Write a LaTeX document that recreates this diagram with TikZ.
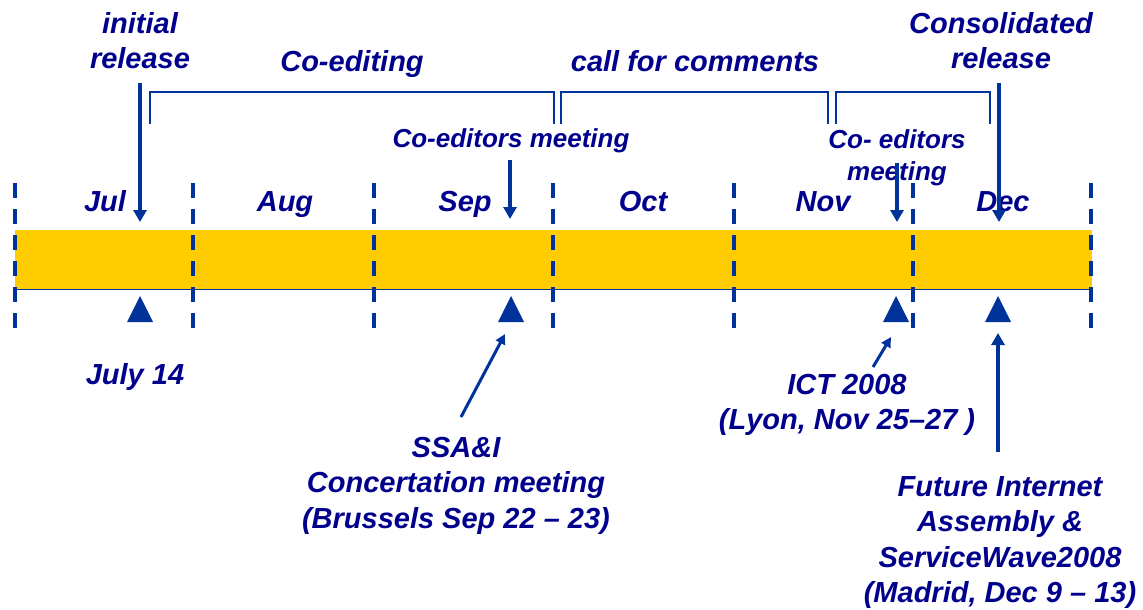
\documentclass[tikz,border=0pt]{standalone}
\usepackage{fontspec}
\setmainfont{Liberation Sans}
\usetikzlibrary{arrows.meta}
\definecolor{navy}{RGB}{0,0,140}
\definecolor{lineblue}{RGB}{0,51,153}
\definecolor{bargold}{RGB}{255,204,0}
\begin{document}
\begin{tikzpicture}[x=1pt,y=-1pt,
  big/.style={text=navy, font=\fontsize{29}{35.5}\selectfont\bfseries\itshape, align=center, inner sep=0pt},
  small/.style={text=navy, font=\fontsize{26}{32}\selectfont\bfseries\itshape, align=center, inner sep=0pt},
  sepline/.style={lineblue, line width=4pt, dash pattern=on 15pt off 11pt},
  brk/.style={lineblue, line width=1.3pt},
  bigarrow/.style={lineblue, line width=4pt, -{Triangle[length=12pt,width=13pt]}},
  thinarrow/.style={lineblue, line width=3pt, -{Triangle[length=10pt,width=10pt]}},
  tri/.style={fill=lineblue}]
\useasboundingbox (0,0) rectangle (1143,610);

% bar
\fill[bargold] (15,230) rectangle (1092,289);
\draw[lineblue, line width=1pt] (15,289) -- (1092,289);

% month separators
\foreach \x in {15,193,374,553,734,913,1091}
  \draw[sepline] (\x,183) -- (\x,328);

% months
\node[big, anchor=base] (jul) at (105,211) {Jul};
\node[big, anchor=base] (aug) at (285,211) {Aug};
\node[big, anchor=base] (sep) at (465,211) {Sep};
\node[big, anchor=base] (oct) at (643,211) {Oct};
\node[big, anchor=base] (nov) at (823,211) {Nov};
\node[big, anchor=base] (dec) at (1003,211) {Dec};

% top labels
\node[big, anchor=north] (init) at (140,12) {initial\\release};
\node[big, anchor=base] (coed) at (352,71) {Co-editing};
\node[big, anchor=base] (cfc) at (695,71) {call for comments};
\node[big, anchor=north] (cons) at (1001,12) {Consolidated\\release};

% brackets
\draw[brk] (150,124) -- (150,92) -- (554,92) -- (554,124);
\draw[brk] (561,124) -- (561,92) -- (828,92) -- (828,124);
\draw[brk] (836,124) -- (836,92) -- (990,92) -- (990,124);

% meeting labels
\node[small, anchor=base] (cem1) at (511,147) {Co-editors meeting};
\node[small, anchor=north] (cem2) at (897,129) {Co- editors\\meeting};

% downward arrows
\coordinate (a1s) at (140,83);  \coordinate (a1e) at (140,222);
\coordinate (a2s) at (510,160); \coordinate (a2e) at (510,219);
\coordinate (a3s) at (897,163); \coordinate (a3e) at (897,222);
\coordinate (a4s) at (999,83);  \coordinate (a4e) at (999,222);
\draw[bigarrow] (a1s) -- (a1e);
\draw[bigarrow] (a2s) -- (a2e);
\draw[bigarrow] (a3s) -- (a3e);
\draw[bigarrow] (a4s) -- (a4e);

% event triangles
\fill[tri] (127,322) -- (140,296) -- (153,322) -- cycle;
\fill[tri] (498,322) -- (511,296) -- (524,322) -- cycle;
\fill[tri] (883,322) -- (896,296) -- (909,322) -- cycle;
\fill[tri] (985,322) -- (998,296) -- (1011,322) -- cycle;

% bottom labels
\node[big, anchor=base] (jul14) at (135,384) {July 14};
\node[big, anchor=north] (ssa) at (456,437) {SSA\&I\\Concertation meeting\\(Brussels Sep 22 – 23)};
\node[big, anchor=north] (ict) at (847,374) {ICT 2008\\(Lyon, Nov 25–27 )};
\node[big, anchor=north] (fia) at (1000,476) {Future Internet\\Assembly \&\\ServiceWave2008\\(Madrid, Dec 9 – 13)};

% upward arrows
\coordinate (b1s) at (461,417); \coordinate (b1e) at (505,334);
\coordinate (b2s) at (873,367); \coordinate (b2e) at (891,337);
\coordinate (b3s) at (998,452); \coordinate (b3e) at (998,333);
\draw[thinarrow] (b1s) -- (b1e);
\draw[thinarrow] (b2s) -- (b2e);
\draw[bigarrow] (b3s) -- (b3e);
\end{tikzpicture}
\end{document}
